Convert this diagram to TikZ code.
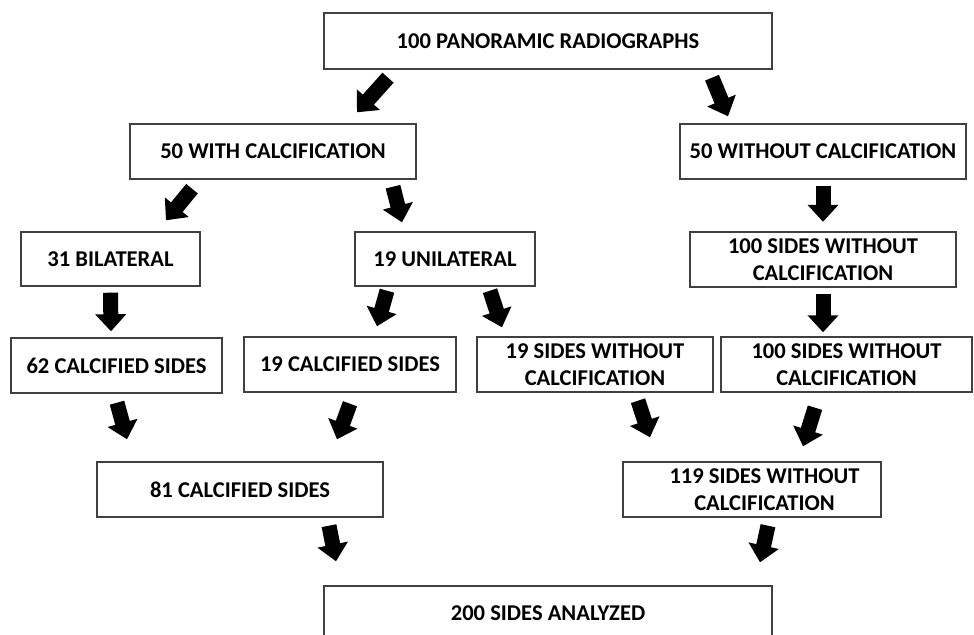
\documentclass[tikz,border=0pt]{standalone}
\usepackage{fontspec}
\setmainfont{Carlito}
\usetikzlibrary{arrows.meta}
\def\pxu{0.02}

\begin{document}
\begin{tikzpicture}[x=\pxu cm, y=-\pxu cm,
    stage/.style 2 args={draw=black!75, line width=0.8pt, fill=white, align=center,
        inner sep=0pt, minimum width={#1*\pxu*1cm}, minimum height={#2*\pxu*1cm},
        font=\fontsize{12.85}{15.2}\selectfont\bfseries},
    fat/.style={line width=0.3cm, -{Triangle[length=0.34cm, width=0.6cm]}}]
    % 版面大小 (974 x 635)，最下方框被裁切
    \useasboundingbox (0,0) rectangle (974,635);
    \clip (0,0) rectangle (974,635);

    % --- 第一、二層 ---
    \node[stage={448}{56}] (radio) at (548,41) {100 PANORAMIC RADIOGRAPHS};
    \node[stage={286}{55}] (with) at (273,151.5) {50 WITH CALCIFICATION};
    \node[stage={286}{55}] (without) at (823,151.5) {50 WITHOUT CALCIFICATION};

    % --- 第三層 ---
    \node[stage={179}{54}] (bilat) at (110.5,259) {31 BILATERAL};
    \node[stage={180}{54}] (unilat) at (445,259) {19 UNILATERAL};
    \node[stage={266}{55}] (sidesA) at (823,259.5) {100 SIDES WITHOUT\\CALCIFICATION};

    % --- 第四層 ---
    \node[stage={211}{55}] (calc62) at (116.5,365.5) {62 CALCIFIED SIDES};
    \node[stage={212}{55}] (calc19) at (350,364.5) {19 CALCIFIED SIDES};
    \node[stage={236}{55}] (wo19) at (595,364.5) {19 SIDES WITHOUT\\CALCIFICATION};
    \node[stage={251}{55}] (wo100) at (846.5,364.5) {100 SIDES WITHOUT\\CALCIFICATION};

    % --- 合計 (119 的文字略偏右) ---
    \node[stage={286}{55}] (calc81) at (240,489.5) {81 CALCIFIED SIDES};
    \node[stage={258}{55}] (wo119) at (752,489.5)
        {\hspace*{0.5cm}119 SIDES WITHOUT\\\hspace*{0.5cm}CALCIFICATION};
    \node[stage={448}{55}] (analyzed) at (548,613.5) {200 SIDES ANALYZED};

    % 粗箭頭
    \draw[fat] ([shift={(-160,8)}]radio.south) -- ([shift={(84,-11)}]with.north);
    \draw[fat] ([shift={(164,8)}]radio.south) -- ([shift={(-95,-7)}]without.north);
    \draw[fat] ([shift={(-81,9)}]with.south) -- ([shift={(55.5,-11)}]bilat.north);
    \draw[fat] ([shift={(120,7)}]with.south) -- ([shift={(-43,-9)}]unilat.north);
    \draw[fat] ([shift={(0,6)}]without.south) -- ([shift={(0,-9.5)}]sidesA.north);
    \draw[fat] ([shift={(0,6)}]bilat.south) -- ([shift={(-5.5,-6)}]calc62.north);
    \draw[fat] ([shift={(-58,4)}]unilat.south) -- ([shift={(27,-10)}]calc19.north);
    \draw[fat] ([shift={(45,4)}]unilat.south) -- ([shift={(-93,-9)}]wo19.north);
    \draw[fat] ([shift={(0,6)}]sidesA.south) -- ([shift={(-23.5,-4)}]wo100.north);
    \draw[fat] ([shift={(0.5,9)}]calc62.south) -- ([shift={(-113,-22)}]calc81.north);
    \draw[fat] ([shift={(0,11)}]calc19.south) -- ([shift={(97,-22)}]calc81.north);
    \draw[fat] ([shift={(43,8)}]wo19.south) -- ([shift={(-102,-24)}]wo119.north);
    \draw[fat] ([shift={(-31.5,15)}]wo100.south) -- ([shift={(51,-15)}]wo119.north);
    \draw[fat] ([shift={(89,8)}]calc81.south) -- ([shift={(-212,-24)}]analyzed.north);
    \draw[fat] ([shift={(16,8)}]wo119.south) -- ([shift={(212,-23)}]analyzed.north);
\end{tikzpicture}
\end{document}
